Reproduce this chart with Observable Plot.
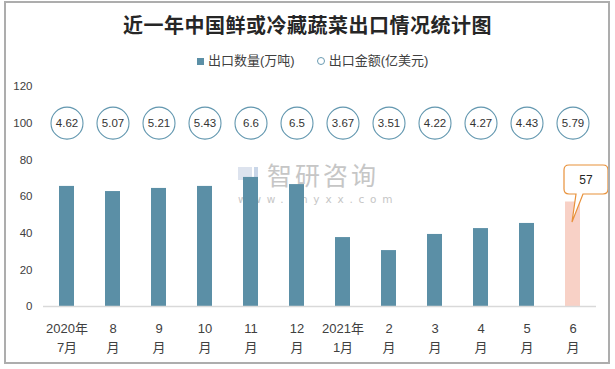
<!DOCTYPE html>
<html><head><meta charset="utf-8">
<script src="https://cdn.jsdelivr.net/npm/d3@7"></script>
<script src="https://cdn.jsdelivr.net/npm/@observablehq/plot@0.6"></script>
<style>
body{margin:0;width:615px;height:369px;overflow:hidden;background:#fff;position:relative;font-family:"Liberation Sans","Noto Sans CJK SC",sans-serif;color:#404040}
#frame{position:absolute;left:4px;top:1px;width:606px;height:363px;box-sizing:border-box;border:2px solid #adadad;z-index:3;pointer-events:none}
#title{position:absolute;left:0;top:12px;width:615px;text-align:center;font:700 20px/26px "Noto Sans CJK SC",sans-serif;color:#262626;letter-spacing:0.5px}
#legend{position:absolute;left:197px;top:52px;font-size:13px;line-height:18px;display:flex;align-items:center;white-space:nowrap}
#legend .sq{width:7px;height:7px;background:#5b8fa6;margin-right:4px}
#legend .ci{width:6px;height:6px;border:1px solid #6a9bb2;border-radius:50%;margin-right:4px;margin-left:22px}
#wm{position:absolute;left:0;top:0;z-index:0;color:#c6c6c6}
#wm .t{position:absolute;left:267px;top:162px;font:25px/24px "Noto Sans CJK SC",sans-serif;letter-spacing:3px;white-space:nowrap}
#wm .u{position:absolute;left:238px;top:194px;font:10.5px/11px "DejaVu Sans",sans-serif;letter-spacing:5.8px;white-space:nowrap}
#wm .i1{position:absolute;left:238px;top:167px;width:14px;height:13px;background:#dde3ee}
#wm .i2{position:absolute;left:254px;top:167px;width:4px;height:13px;background:#c9d6e8}
svg{position:absolute;left:0;top:0;z-index:1}
</style></head>
<body>
<div id="frame"></div>
<div id="title">近一年中国鲜或冷藏蔬菜出口情况统计图</div>
<div id="legend"><span class="sq"></span><span>出口数量(万吨)</span><span class="ci"></span><span>出口金额(亿美元)</span></div>
<div id="wm"><div class="i1"></div><div class="i2"></div><div class="t">智研咨询</div><div class="u">www.chyxx.com</div></div>
<script>
const months = ["2020年\n7月","8\n月","9\n月","10\n月","11\n月","12\n月","2021年\n1月","2\n月","3\n月","4\n月","5\n月","6\n月"];
const volume = [65.5,62.7,64.4,65.5,70.4,66.5,37.6,30.5,39.3,42.5,45.3,57];
const amount = ["4.62","5.07","5.21","5.43","6.6","6.5","3.67","3.51","4.22","4.27","4.43","5.79"];
const yTicks = [0,20,40,60,80,100,120];
const amountRow = 100;
const highlightIndex = 11;

const data = months.map((m,i)=>({month:m, volume:volume[i], amount:amount[i], hi:i===highlightIndex}));

const plot = Plot.plot({
  width:615, height:369,
  marginTop:86, marginBottom:63, marginLeft:43, marginRight:19,
  style:{background:"transparent", fontFamily:'"Liberation Sans","Noto Sans CJK SC",sans-serif', color:"#404040", overflow:"visible"},
  x:{domain:months, paddingInner:0.67, paddingOuter:0.335, label:null},
  y:{domain:[0,120], label:null},
  marks:[
    Plot.axisY({ticks:yTicks, tickSize:0, tickPadding:11, fontSize:11.5, fill:"#404040", label:null}),
    Plot.axisX({tickSize:0, tickPadding:13, fontSize:13, lineHeight:1.45, fill:"#404040", label:null}),
    Plot.barY(data,{x:"month", y:"volume", fill:d=>d.hi?"#f8d1c6":"#5b8fa6"}),
    Plot.ruleY([0],{stroke:"#d9d9d9", strokeWidth:1.5}),
    Plot.dot(data,{x:"month", y:()=>amountRow, r:16, stroke:"#6297af", strokeWidth:1.1, fill:"white"}),
    Plot.text(data,{x:"month", y:()=>amountRow, text:"amount", fontSize:11.5, fill:"#333"})
  ]
});
document.body.appendChild(plot);

// callout for highlighted bar
const xs = plot.scale("x"), ys = plot.scale("y");
const cx = xs.apply(months[highlightIndex]) + xs.bandwidth/2;
const ty = ys.apply(volume[highlightIndex]);
const L=cx-8.5, R=cx+35.5, T=ty-36.5, B=ty-7.5, r=5;
const p = `M${L+r},${T}H${R-r}Q${R},${T} ${R},${T+r}V${B-r}Q${R},${B} ${R-r},${B}H${cx+10.5}L${cx-0.5},${ty+20.5}L${cx+3.5},${B}H${L+r}Q${L},${B} ${L},${B-r}V${T+r}Q${L},${T} ${L+r},${T}Z`;
const g = d3.select(plot).append("g");
g.append("path").attr("d",p).attr("fill","white").attr("stroke","#e8913a").attr("stroke-width",1.2);
g.append("text").attr("x",cx+13.5).attr("y",ty-21.5).attr("dy","0.35em").attr("text-anchor","middle")
  .attr("font-size",12).attr("fill","#262626").text(String(volume[highlightIndex]));
</script>
</body></html>
